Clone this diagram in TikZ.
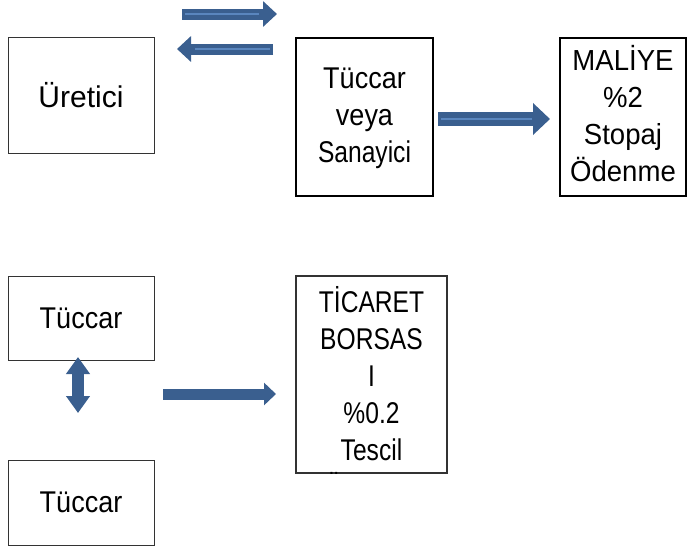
\documentclass[tikz,border=0pt]{standalone}
\usepackage{fontspec}
\setmainfont{Liberation Sans}
\newfontfamily\tuccarfont[FakeStretch=0.9]{Liberation Sans}
\newfontfamily\narrowfont[FakeStretch=0.82]{Liberation Sans}
\newfontfamily\maliyefont[FakeStretch=0.95]{Liberation Sans}
\usetikzlibrary{arrows.meta}
\definecolor{arrowblue}{HTML}{3A5F8F}
\definecolor{stripeblue}{HTML}{5A86BE}

\begin{document}
\begin{tikzpicture}[x=1pt, y=-1pt,
    box/.style={draw, inner sep=0pt, align=center, font=\fontsize{30}{36}\selectfont},
    thinbox/.style={box, draw=black!80, line width=0.9pt},
    thickbox/.style={box, line width=2pt},
    barrow/.style={arrowblue, line width=#1,
      postaction={draw=stripeblue, line width=1.4pt, -, shorten <=3pt, shorten >=18pt}},
    barrow/.default=11pt]
  \useasboundingbox (0,0) rectangle (688,550);

  \node (u) [thinbox, minimum width=146, minimum height=116] at (81,95) {Üretici};
  \node (t) [thickbox, minimum width=137, minimum height=158] at (364.5,117) {};
  \node (tt) [inner sep=0pt, align=center, font=\tuccarfont\fontsize{30}{37}\selectfont]
    at ([yshift=-1pt]t.center) {Tüccar\\veya\\{\narrowfont Sanayici}};
  \node (m) [thickbox, minimum width=126, minimum height=158] at (623,117) {};
  \node (mt) [inner sep=0pt, align=center, font=\maliyefont\fontsize{29}{37}\selectfont]
    at ([yshift=3pt]m.center) {MALİYE\\\%2\\Stopaj\\Ödenme};
  \node (c1) [thinbox, minimum width=146, minimum height=84, font=\tuccarfont\fontsize{30}{36}\selectfont]
    at (81,318) {Tüccar};
  \node (c2) [thinbox, minimum width=146, minimum height=85, font=\tuccarfont\fontsize{30}{36}\selectfont]
    at (81,502.5) {Tüccar};
  \node (b) [thinbox, line width=1.2pt, minimum width=151, minimum height=197] at (371.5,374.5) {};
  \begin{scope}
    \clip (b.south west) rectangle (b.north east);
    \node (bt) [anchor=north, align=center, inner sep=0pt, font=\narrowfont\fontsize{30}{37}\selectfont]
      at ([yshift=-11pt]b.north) {TİCARET\\BORSAS\\I\\\%0.2\\Tescil\\Ödenme};
  \end{scope}

  \coordinate (p1) at (182,14);  \coordinate (q1) at (277,14);
  \coordinate (p2) at (273,49);  \coordinate (q2) at (177,49);
  \coordinate (p3) at (438,119); \coordinate (q3) at (550,119);
  \coordinate (p4) at (163,394); \coordinate (q4) at (276,394);
  \coordinate (p5) at (78,357);  \coordinate (q5) at (78,413);

  \draw[barrow, -{Triangle[width=25pt, length=14pt]}] (p1) -- (q1);
  \draw[barrow, -{Triangle[width=25pt, length=14pt]}] (p2) -- (q2);
  \draw[barrow=14pt, -{Triangle[width=31pt, length=17pt]}] (p3) -- (q3);
  \draw[arrowblue, line width=11pt, -{Triangle[width=22pt, length=12pt]}] (p4) -- (q4);
  \draw[arrowblue, line width=12pt, {Triangle[width=23pt, length=17pt]}-{Triangle[width=23pt, length=17pt]}] (p5) -- (q5);
\end{tikzpicture}
\end{document}
